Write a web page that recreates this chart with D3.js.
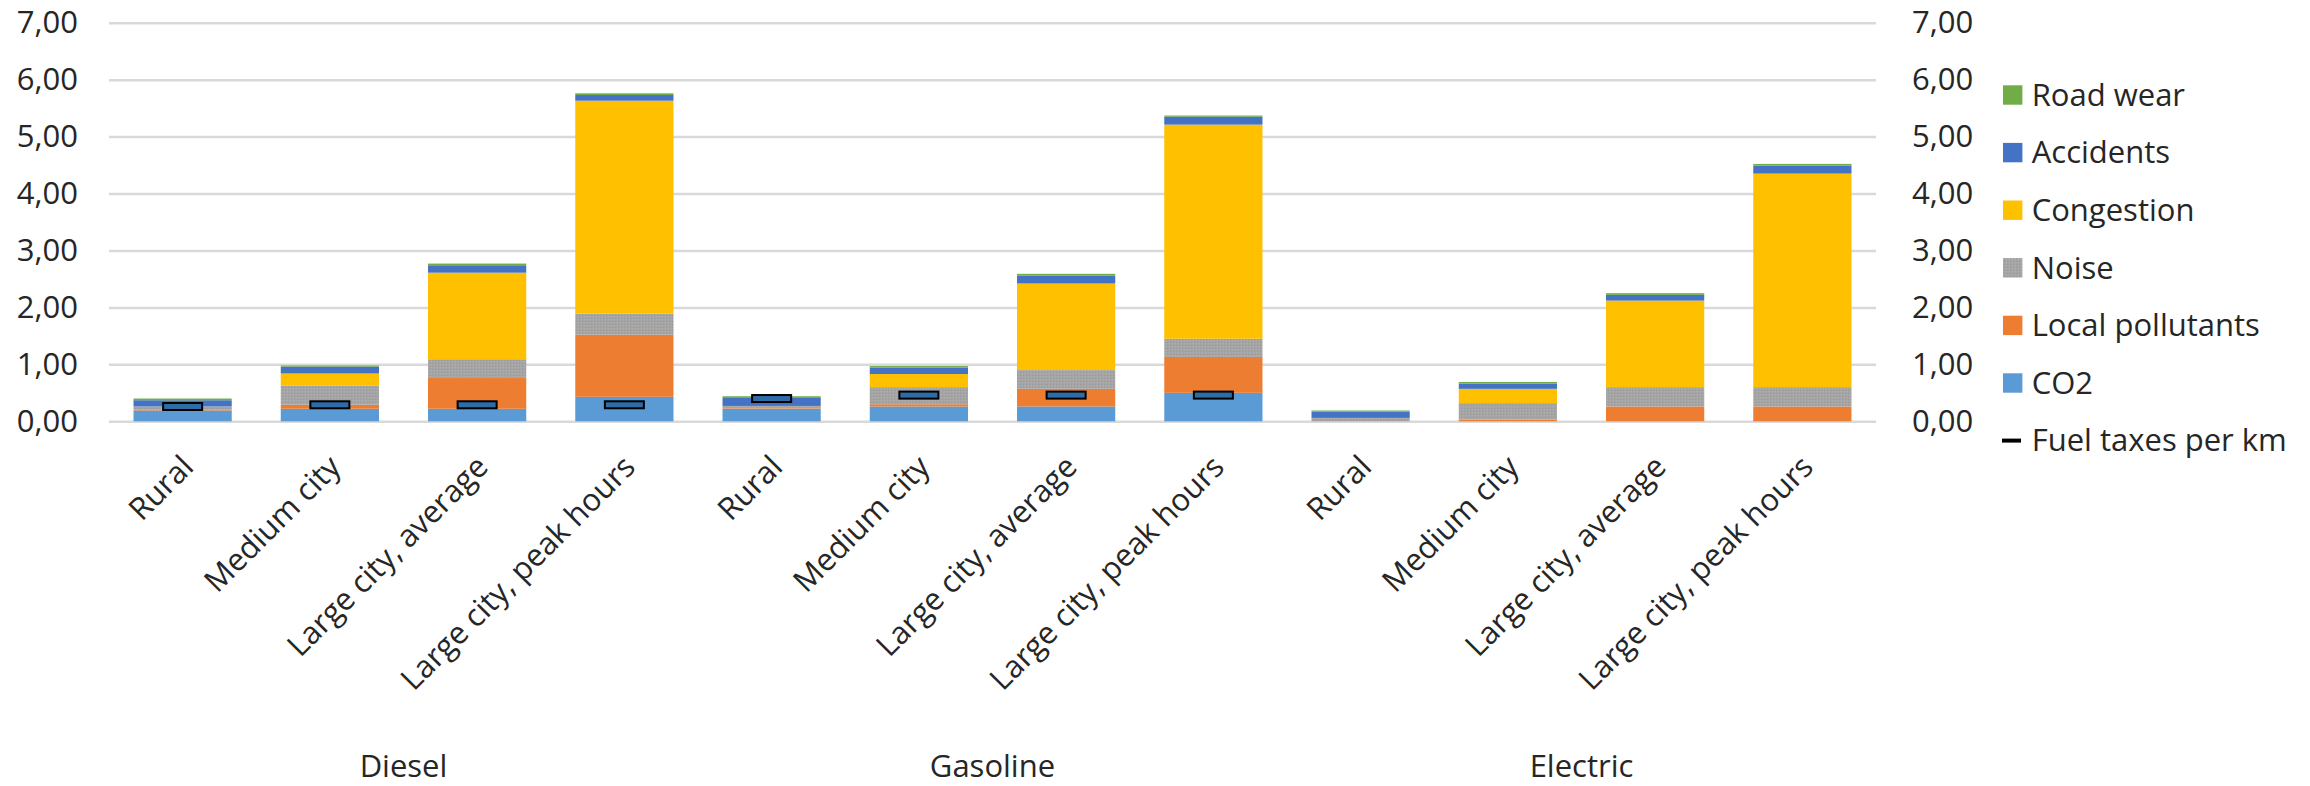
<!DOCTYPE html>
<html>
<head>
<meta charset="utf-8">
<script src="https://cdn.jsdelivr.net/npm/d3@7"></script>
<style>
  html, body { margin: 0; padding: 0; background: #fff; }
  svg { display: block; }
  text { font-family: "Open Sans", Lato, "DejaVu Sans", sans-serif; fill: #262626; }
</style>
</head>
<body>
<svg id="chart" width="2310" height="786"></svg>
<script>
// ---- data ----
const groups = ["Diesel", "Gasoline", "Electric"];
const subCategories = ["Rural", "Medium city", "Large city, average", "Large city, peak hours"];
const seriesNames = ["CO2", "Local pollutants", "Noise", "Congestion", "Accidents", "Road wear"];
const legendOrder = ["Road wear", "Accidents", "Congestion", "Noise", "Local pollutants", "CO2"];
const yTicks = [0, 1, 2, 3, 4, 5, 6, 7];

// values per category in order Diesel(4), Gasoline(4), Electric(4)
const co2             = [0.19, 0.22, 0.22, 0.43,  0.22, 0.26, 0.26, 0.50,  0.00, 0.00, 0.00, 0.00];
const localPollutants = [0.01, 0.07, 0.54, 1.09,  0.01, 0.04, 0.31, 0.63,  0.00, 0.03, 0.26, 0.26];
const noise           = [0.06, 0.34, 0.33, 0.37,  0.04, 0.30, 0.33, 0.32,  0.06, 0.29, 0.34, 0.34];
const congestion      = [0.00, 0.21, 1.52, 3.74,  0.00, 0.23, 1.52, 3.76,  0.00, 0.25, 1.52, 3.75];
const accidents       = [0.11, 0.12, 0.13, 0.10,  0.14, 0.11, 0.14, 0.14,  0.11, 0.09, 0.10, 0.14];
const roadWear        = [0.03, 0.02, 0.03, 0.03,  0.03, 0.03, 0.03, 0.02,  0.02, 0.03, 0.03, 0.03];
const fuelTaxes       = [0.26, 0.29, 0.29, 0.29,  0.40, 0.46, 0.46, 0.46,  null, null, null, null];

const colors = {
  "CO2": "#5B9BD5",
  "Local pollutants": "#ED7D31",
  "Noise": "url(#noisePat)",
  "Congestion": "#FFC000",
  "Accidents": "#4472C4",
  "Road wear": "#70AD47"
};

// ---- build table ----
const seriesArrays = { "CO2": co2, "Local pollutants": localPollutants, "Noise": noise,
  "Congestion": congestion, "Accidents": accidents, "Road wear": roadWear };
const rows = [];
groups.forEach((g, gi) => subCategories.forEach((s, si) => {
  const i = gi * subCategories.length + si;
  const r = { key: g + "|" + s, group: g, sub: s, tax: fuelTaxes[i] };
  seriesNames.forEach(n => r[n] = seriesArrays[n][i]);
  rows.push(r);
}));

// ---- layout ----
const svg = d3.select("#chart");
const plotLeft = 109, plotRight = 1876, plotTop = 22.7, plotBottom = 421.3;
const fontSize = 31;

const defs = svg.append("defs");
const pat = defs.append("pattern").attr("id", "noisePat").attr("patternUnits", "userSpaceOnUse")
  .attr("width", 3).attr("height", 3);
pat.append("rect").attr("width", 3).attr("height", 3).attr("fill", "#A5A5A5");
pat.append("rect").attr("x", 0).attr("y", 0).attr("width", 1).attr("height", 1).attr("fill", "#989898");
pat.append("rect").attr("x", 2).attr("y", 1).attr("width", 1).attr("height", 1).attr("fill", "#B0B0B0");

const x = d3.scaleBand().domain(rows.map(d => d.key)).range([plotLeft, plotRight])
  .paddingInner(0.333).paddingOuter(0.1665);
const y = d3.scaleLinear().domain([0, 7]).range([plotBottom, plotTop]);

const fmt = d3.formatLocale({ decimal: ",", thousands: ".", grouping: [3], currency: ["", ""] }).format(".2f");

// gridlines
const grid = svg.append("g").attr("transform", `translate(${plotLeft},0)`)
  .call(d3.axisLeft(y).tickValues(yTicks).tickSize(-(plotRight - plotLeft)).tickFormat(""));
grid.select(".domain").remove();
grid.selectAll("line").attr("stroke", "#D9D9D9").attr("stroke-width", 2.5);

// left axis labels
const leftAxis = svg.append("g").attr("transform", `translate(${plotLeft},0)`)
  .call(d3.axisLeft(y).tickValues(yTicks).tickSize(0).tickPadding(31).tickFormat(fmt));
leftAxis.select(".domain").remove();
leftAxis.selectAll("text").attr("font-size", fontSize).style("fill", "#262626");

// right axis labels
const rightAxis = svg.append("g").attr("transform", `translate(${plotRight},0)`)
  .call(d3.axisRight(y).tickValues(yTicks).tickSize(0).tickPadding(36).tickFormat(fmt));
rightAxis.select(".domain").remove();
rightAxis.selectAll("text").attr("font-size", fontSize).style("fill", "#262626");

// stacked bars
const stack = d3.stack().keys(seriesNames);
const stacked = stack(rows);
svg.append("g").selectAll("g").data(stacked).join("g")
  .attr("fill", d => colors[d.key])
  .selectAll("rect").data(d => d).join("rect")
  .attr("x", d => x(d.data.key))
  .attr("width", x.bandwidth())
  .attr("y", d => y(d[1]))
  .attr("height", d => Math.max(0, y(d[0]) - y(d[1])));

// fuel tax markers
const mw = 39, mh = 7;
svg.append("g").selectAll("rect").data(rows.filter(d => d.tax != null)).join("rect")
  .attr("x", d => x(d.key) + x.bandwidth() / 2 - mw / 2)
  .attr("y", d => y(d.tax) - mh / 2)
  .attr("width", mw).attr("height", mh)
  .attr("fill", "#2E6CA8").attr("stroke", "#000").attr("stroke-width", 2);

// category labels
svg.append("g").selectAll("text").data(rows).join("text")
  .attr("transform", d => `translate(${x(d.key) + x.bandwidth() / 2 + 5},461) rotate(-45)`)
  .attr("text-anchor", "end").attr("dy", "0.35em").attr("font-size", fontSize)
  .text(d => d.sub);

// group labels
svg.append("g").selectAll("text").data(groups).join("text")
  .attr("x", g => {
    const ks = rows.filter(r => r.group === g).map(r => x(r.key) + x.bandwidth() / 2);
    return (d3.min(ks) + d3.max(ks)) / 2;
  })
  .attr("y", 777).attr("text-anchor", "middle").attr("font-size", fontSize)
  .text(g => g);

// legend
const legendX = 2003, legendY0 = 95, legendStep = 57.6;
const leg = svg.append("g");
legendOrder.forEach((name, i) => {
  const cy = legendY0 + i * legendStep;
  leg.append("rect").attr("x", legendX).attr("y", cy - 9.7).attr("width", 19.4).attr("height", 19.4)
    .attr("fill", colors[name]);
  leg.append("text").attr("x", legendX + 28.7).attr("y", cy).attr("dy", "0.35em")
    .attr("font-size", fontSize).text(name);
});
{
  const cy = legendY0 + legendOrder.length * legendStep;
  leg.append("rect").attr("x", legendX - 1).attr("y", cy - 2).attr("width", 19).attr("height", 4).attr("fill", "#000");
  leg.append("text").attr("x", legendX + 28.7).attr("y", cy).attr("dy", "0.35em")
    .attr("font-size", fontSize).text("Fuel taxes per km");
}
</script>
</body>
</html>
